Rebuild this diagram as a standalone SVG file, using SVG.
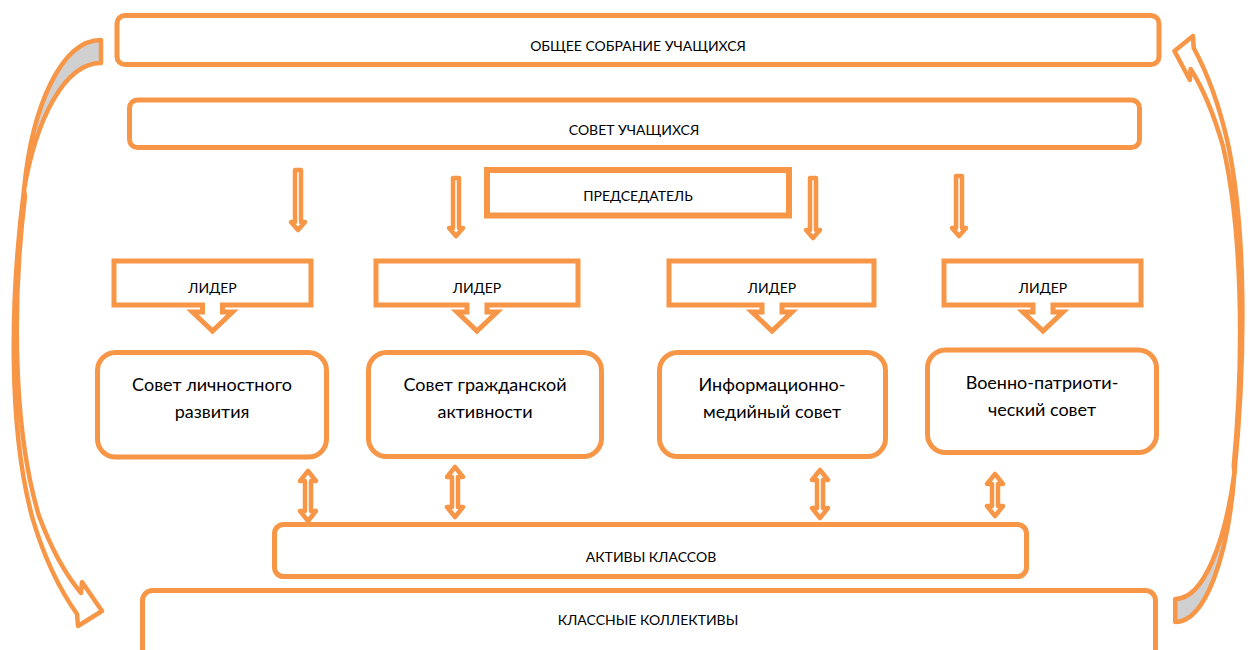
<svg xmlns="http://www.w3.org/2000/svg" width="1251" height="650" viewBox="0 0 1251 650">
<defs>
<style>
.box{fill:#fff;stroke:#F79646;stroke-width:5}
.thick{fill:#fff;stroke:#F79646;stroke-width:6}
.arr{fill:#fff;stroke:#F79646;stroke-width:4.5;stroke-linejoin:round}
.curve{stroke:#F79646;stroke-width:4.5;stroke-linejoin:round;vector-effect:non-scaling-stroke}
.back{fill:#D0D0D0}
.front{fill:#fff}
.lbl{font-family:Lato,"Open Sans","Liberation Sans",sans-serif;font-size:14px;fill:#000;text-anchor:middle}
.big{font-family:Lato,"Open Sans","Liberation Sans",sans-serif;font-size:18px;fill:#000;text-anchor:middle}
</style>
<g id="curvedArrow">
<path class="curve back" d="M101,40 C62,40 32,105 24,190 C36,120 64,63 101,63 Z"/>
<path class="curve front" d="M24,190 C10,300 8,430 33,520 C45,560 60,590 77,614 L78,626 L102,611 L82,582 L81,593 C66,575 51,548 39,516 C16,440 10,320 25,196 Z"/>
</g>
</defs>
<rect width="1251" height="650" fill="#fff"/>
<g id="connectors">
<use href="#curvedArrow"/>
<use href="#curvedArrow" transform="matrix(-0.77 0 0 -1 1253 662)"/>
<path class="arr" d="M295,170 H301 V222 H305 L298,230 L291,222 H295 Z"/>
<path class="arr" d="M453,178 H459 V228 H463 L456,236 L449,228 H453 Z"/>
<path class="arr" d="M810,178 H816 V230 H820 L813,238 L806,230 H810 Z"/>
<path class="arr" d="M956,176 H962 V228 H966 L959,236 L952,228 H956 Z"/>
<path class="arr" d="M308,471 L316,481 H311 V511 H316 L308,521 L300,511 H305 V481 H300 Z"/>
<path class="arr" d="M455,467 L463,477 H458 V507 H463 L455,517 L447,507 H452 V477 H447 Z"/>
<path class="arr" d="M820,470 L828,480 H823 V508 H828 L820,518 L812,508 H817 V480 H812 Z"/>
<path class="arr" d="M995,474 L1003,484 H998 V506 H1003 L995,516 L987,506 H992 V484 H987 Z"/>
</g>
<g id="n-obshchee">
<rect class="box" x="117" y="15.5" width="1042" height="49" rx="8"/>
<text class="lbl" x="638" y="51">ОБЩЕЕ СОБРАНИЕ УЧАЩИХСЯ</text>
</g>
<g id="n-sovet">
<rect class="box" x="129.5" y="100" width="1010" height="47.5" rx="8"/>
<text class="lbl" x="634" y="135">СОВЕТ УЧАЩИХСЯ</text>
</g>
<g id="n-predsedatel">
<rect class="thick" x="487" y="170" width="302" height="45.5"/>
<text class="lbl" x="638" y="201">ПРЕДСЕДАТЕЛЬ</text>
</g>
<g id="n-lider1">
<path class="box" d="M114,261 H311 V305 H222.5 V312 H232.5 L212.5,331 L192.5,312 H202.5 V305 H114 Z"/>
<text class="lbl" x="212.5" y="293">ЛИДЕР</text>
</g>
<g id="n-lider2">
<path class="box" d="M376,261 H578 V305 H487 V312 H497 L477,331 L457,312 H467 V305 H376 Z"/>
<text class="lbl" x="477" y="293">ЛИДЕР</text>
</g>
<g id="n-lider3">
<path class="box" d="M669,261 H874 V305 H782 V312 H792 L772,331 L752,312 H762 V305 H669 Z"/>
<text class="lbl" x="772" y="293">ЛИДЕР</text>
</g>
<g id="n-lider4">
<path class="box" d="M944,261 H1141 V305 H1053 V312 H1063 L1043,331 L1023,312 H1033 V305 H944 Z"/>
<text class="lbl" x="1043" y="293">ЛИДЕР</text>
</g>
<g id="n-c1">
<rect class="box" x="97.5" y="352.5" width="229" height="104.5" rx="18"/>
<text class="big" x="212" y="391">Совет личностного</text>
<text class="big" x="212" y="418">развития</text>
</g>
<g id="n-c2">
<rect class="box" x="368.5" y="352.5" width="233" height="104" rx="18"/>
<text class="big" x="485" y="391">Совет гражданской</text>
<text class="big" x="485" y="418">активности</text>
</g>
<g id="n-c3">
<rect class="box" x="659.5" y="352.5" width="226" height="104" rx="18"/>
<text class="big" x="772" y="391">Информационно-</text>
<text class="big" x="772" y="418">медийный совет</text>
</g>
<g id="n-c4">
<rect class="box" x="927.5" y="350" width="229" height="102.5" rx="18"/>
<text class="big" x="1042" y="389">Военно-патриоти-</text>
<text class="big" x="1042" y="416">ческий совет</text>
</g>
<g id="n-aktivy">
<rect class="box" x="274.5" y="524.5" width="752" height="52" rx="9"/>
<text class="lbl" x="651" y="562">АКТИВЫ КЛАССОВ</text>
</g>
<g id="n-kollektivy">
<rect class="box" x="142.5" y="590.5" width="1013" height="80" rx="10"/>
<text class="lbl" x="648" y="625">КЛАССНЫЕ КОЛЛЕКТИВЫ</text>
</g>
</svg>
